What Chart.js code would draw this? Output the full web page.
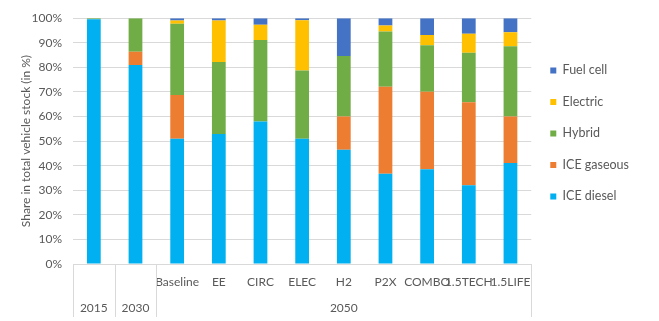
<!DOCTYPE html>
<html>
<head>
<meta charset="utf-8">
<script src="https://cdn.jsdelivr.net/npm/chart.js@4"></script>
<style>
  html, body { margin: 0; padding: 0; background: #fff; }
  #wrap { width: 659px; height: 321px; position: relative; }
</style>
</head>
<body>
<div id="wrap"><canvas id="c" width="659" height="321"></canvas></div>
<script>
const scenarios = ['', '', 'Baseline', 'EE', 'CIRC', 'ELEC', 'H2', 'P2X', 'COMBO', '1.5TECH', '1.5LIFE'];
const years     = ['2015', '2030', '', '', '', '', '2050', '', '', '', ''];
const yTicks    = [0, 10, 20, 30, 40, 50, 60, 70, 80, 90, 100];

const iceDiesel  = [99.6, 81.0, 51.0, 52.9, 58.0, 51.0, 46.5, 36.7, 38.5, 32.0, 41.1];
const iceGaseous = [0,    5.3, 17.8,  0,    0,    0,   13.5, 35.4, 31.6, 33.8, 18.9];
const hybrid     = [0.4, 13.7, 28.9, 29.3, 33.1, 27.7, 24.6, 22.5, 18.9, 20.1, 28.6];
const electric   = [0,    0,    1.4, 16.9,  6.2, 20.5,  0,    2.4,  4.2,  7.8,  5.7];
const fuelCell   = [0,    0,    0.9,  0.9,  2.7,  0.8, 15.4,  3.0,  6.8,  6.3,  5.7];

const labels = scenarios.map((s, i) => [s, years[i]]);
const FONT = 'Lato';
const TXT = '#595959';

const separators = {
  id: 'separators',
  afterDraw(chart) {
    const xs = chart.scales.x;
    const half = (xs.getPixelForValue(1) - xs.getPixelForValue(0)) / 2;
    const n = labels.length;
    const idx = [0, 1, 2, n];
    const ctx = chart.ctx;
    ctx.save();
    ctx.strokeStyle = '#d9d9d9';
    ctx.lineWidth = 1;
    idx.forEach(i => {
      const px = Math.round(xs.getPixelForValue(0) - half + i * 2 * half) + 0.5;
      ctx.beginPath();
      ctx.moveTo(px, xs.top);
      ctx.lineTo(px, xs.bottom - 4);
      ctx.stroke();
    });
    ctx.restore();
  }
};

new Chart(document.getElementById('c'), {
  type: 'bar',
  data: {
    labels: labels,
    datasets: [
      { label: 'ICE diesel',  data: iceDiesel,  backgroundColor: '#00B0F0' },
      { label: 'ICE gaseous', data: iceGaseous, backgroundColor: '#ED7D31' },
      { label: 'Hybrid',      data: hybrid,     backgroundColor: '#70AD47' },
      { label: 'Electric',    data: electric,   backgroundColor: '#FFC000' },
      { label: 'Fuel cell',   data: fuelCell,   backgroundColor: '#4472C4' }
    ]
  },
  options: {
    responsive: false,
    animation: false,
    devicePixelRatio: 1,
    layout: { padding: { top: 16, left: 0, right: 20, bottom: 0 } },
    datasets: { bar: { barPercentage: 0.33, categoryPercentage: 1 } },
    plugins: {
      tooltip: { enabled: false },
      legend: {
        position: 'right',
        align: 'start',
        reverse: true,
        title: { display: true, text: '', font: { size: 1 }, padding: { top: 28, bottom: 0 } },
        labels: {
          boxWidth: 6, boxHeight: 6, padding: 19,
          color: TXT, font: { family: FONT, size: 12.5 }
        }
      }
    },
    scales: {
      x: {
        stacked: true,
        grid: { display: false },
        border: { display: true, color: '#d9d9d9' },
        ticks: {
          autoSkip: false, maxRotation: 0, minRotation: 0,
          color: TXT, padding: -2,
          font: { family: FONT, size: 12, lineHeight: 2.1 }
        },
        afterFit(s) { s.height = 57; }
      },
      y: {
        stacked: true,
        min: 0, max: 100,
        afterBuildTicks(s) { s.ticks = yTicks.map(v => ({ value: v })); },
        grid: { color: '#d9d9d9', drawTicks: false },
        border: { display: false },
        ticks: { color: TXT, padding: 11, font: { family: FONT, size: 12 }, callback: v => v + '%' },
        title: { display: true, text: 'Share in total vehicle stock (in %)', color: TXT, font: { family: FONT, size: 12 }, padding: { top: 19, bottom: 0 } },
        afterFit(s) { s.width = 73; }
      }
    }
  },
  plugins: [separators]
});
</script>
</body>
</html>
